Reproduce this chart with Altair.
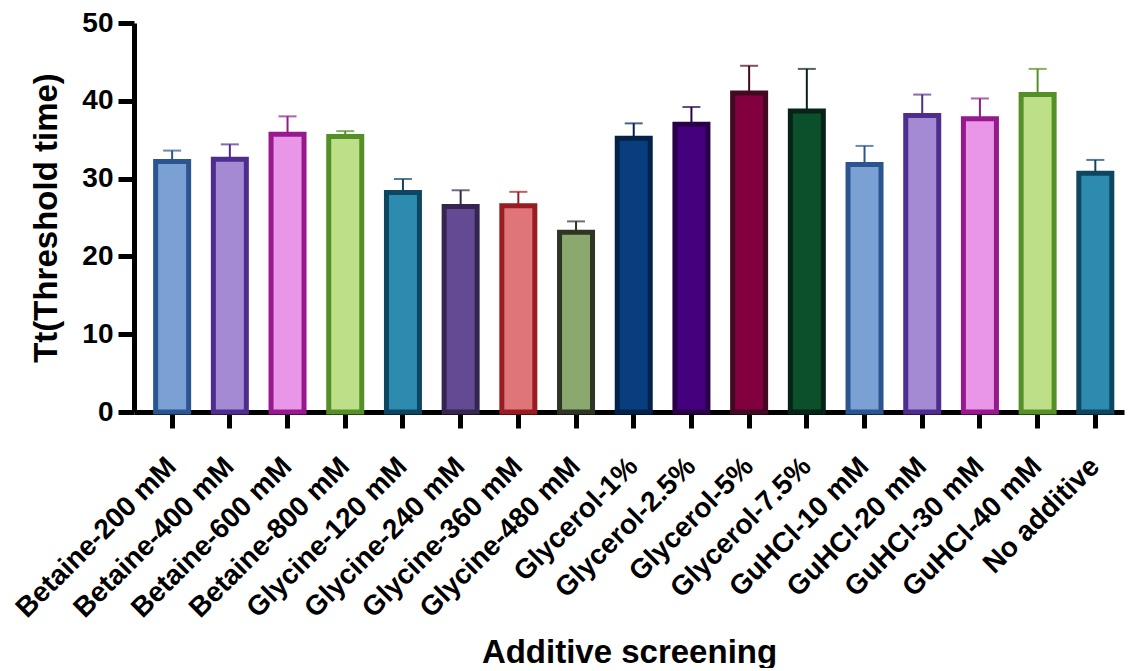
import altair as alt
import pandas as pd

categories = ["Betaine-200 mM", "Betaine-400 mM", "Betaine-600 mM", "Betaine-800 mM",
              "Glycine-120 mM", "Glycine-240 mM", "Glycine-360 mM", "Glycine-480 mM",
              "Glycerol-1%", "Glycerol-2.5%", "Glycerol-5%", "Glycerol-7.5%",
              "GuHCl-10 mM", "GuHCl-20 mM", "GuHCl-30 mM", "GuHCl-40 mM", "No additive"]
means = [32.2, 32.5, 35.7, 35.4, 28.2, 26.4, 26.5, 23.1,
         35.2, 37.0, 41.0, 38.7, 31.8, 38.1, 37.7, 40.8, 30.7]
upper = [33.6, 34.4, 38.0, 36.1, 29.95, 28.5, 28.3, 24.5,
         37.1, 39.2, 44.5, 44.1, 34.2, 40.8, 40.3, 44.1, 32.4]
fills = ["#7BA0D4", "#A48AD3", "#E996E8", "#BDDF87", "#2E8BB0", "#634A93", "#E07579", "#8BA86F",
         "#083E7E", "#45007D", "#83003E", "#0C502B", "#7BA0D4", "#A48AD3", "#E996E8", "#BDDF87", "#2E8BB0"]
strokes = ["#2A5591", "#4E2D8F", "#961A8D", "#548F27", "#0E4560", "#352650", "#981C22", "#2D3525",
           "#03224A", "#2A0048", "#420A22", "#052316", "#2A5591", "#4E2D8F", "#961A8D", "#548F27", "#0E4560"]

df = pd.DataFrame({"cat": categories, "mean": means, "upper": upper})

FONT = "Liberation Sans"

x = alt.X("cat:N", sort=categories,
          scale=alt.Scale(paddingInner=0.428, paddingOuter=0.293, align=0.64),
          axis=alt.Axis(title="Additive screening", labelAngle=-45, labelFontSize=28,
                        labelFont=FONT, labelFontWeight="bold", labelColor="black",
                        labelLimit=400, labelPadding=34,
                        tickSize=16, tickWidth=5, tickColor="black",
                        domainWidth=5, domainColor="black",
                        titleFont=FONT, titleFontSize=33, titleFontWeight="bold",
                        titleColor="black", titleBaseline="alphabetic", titleY=250))
y_scale = alt.Scale(domain=[0, 50], nice=False)
y_axis = alt.Axis(title="Tt(Threshold time)", values=[0, 10, 20, 30, 40, 50], grid=False,
                  labelFontSize=28, labelFont=FONT, labelFontWeight="bold", labelColor="black",
                  labelPadding=5, tickSize=16, tickWidth=5, tickColor="black",
                  domainWidth=5, domainColor="black",
                  titleFont=FONT, titleFontSize=33, titleFontWeight="bold", titleColor="black",
                  titleBaseline="middle", titleX=-88)

fill_enc = alt.Fill("cat:N", scale=alt.Scale(domain=categories, range=fills), legend=None)
stroke_enc = alt.Stroke("cat:N", scale=alt.Scale(domain=categories, range=strokes), legend=None)

base = alt.Chart(df)

bars = base.mark_bar(strokeWidth=5).encode(
    x=x,
    y=alt.Y("mean:Q", scale=y_scale, axis=y_axis),
    fill=fill_enc,
    stroke=stroke_enc,
)
err = base.mark_rule(strokeWidth=2).encode(
    x=alt.X("cat:N", sort=categories),
    y="mean:Q",
    y2="upper:Q",
    stroke=stroke_enc,
)
caps = base.mark_tick(size=18, thickness=2).encode(
    x=alt.X("cat:N", sort=categories),
    y="upper:Q",
    color=alt.Color("cat:N", scale=alt.Scale(domain=categories, range=strokes), legend=None),
)

chart = alt.layer(err, caps, bars).properties(
    width=990, height=389,
    autosize=alt.AutoSizeParams(type="none"),
    padding={"left": 126, "top": 15, "right": 2, "bottom": 256},
).configure_view(strokeWidth=0)

chart.save("out.html", embed_options={"renderer": "svg", "actions": False})
